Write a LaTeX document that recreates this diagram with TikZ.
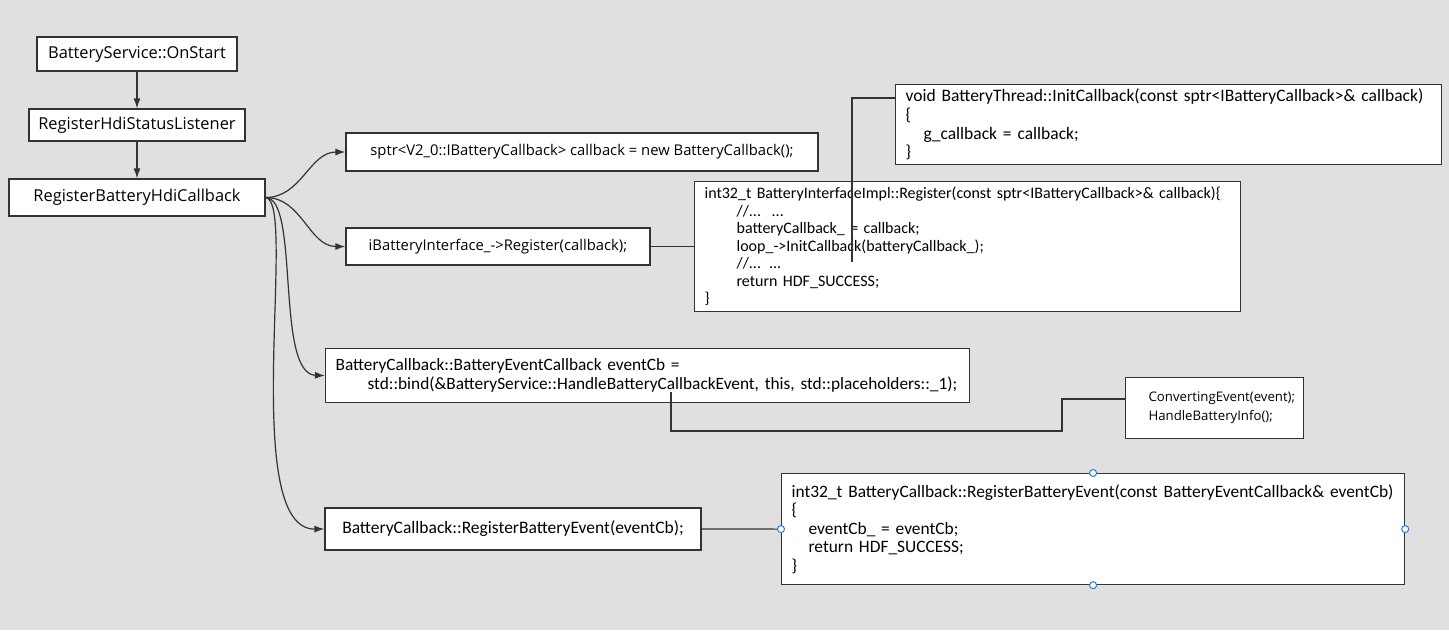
\documentclass[tikz,border=0pt]{standalone}
\usepackage{fontspec}
\setmainfont{Open Sans}
\newfontfamily\codefont{Carlito}
\usetikzlibrary{positioning,arrows.meta}

\definecolor{canvas}{RGB}{224,224,224}
\definecolor{edgegray}{RGB}{51,51,51}
\definecolor{handle}{RGB}{40,120,220}

\tikzset{
  call/.style={draw=edgegray, fill=white, line width=1.2pt, inner sep=0pt,
    font=\fontsize{16.4}{19}\selectfont},
  code/.style={call, align=left, anchor=north west, inner xsep=10pt, inner ysep=4pt,
    font=\codefont\fontsize{16}{17.5}\selectfont},
  flow/.style={draw=edgegray, line width=1.2pt, -{Latex[length=10pt,width=7pt]}},
  link/.style={draw=edgegray, line width=1.2pt},
  grip/.style={circle, draw=handle, fill=white, line width=1pt, inner sep=0pt, minimum size=7pt},
}

\begin{document}
\begin{tikzpicture}[x=1pt, y=-1pt]
  \fill[canvas] (0,0) rectangle (1449,630);
  \useasboundingbox (0,0) rectangle (1449,630);

  %Define nodes
  \node[call, minimum width=200pt, minimum height=34pt] (onstart) at (137,54) {BatteryService::OnStart};
  \node[call, minimum width=216pt, minimum height=32pt] (listener) at (137,125) {RegisterHdiStatusListener};
  \node[call, minimum width=256pt, minimum height=37pt] (hdicb) at (137,197.5) {RegisterBatteryHdiCallback};

  \node[call, minimum width=472pt, minimum height=38pt, font=\fontsize{14.8}{17}\selectfont] (newcb) at (582,152)
    {sptr<V2\_0::IBatteryCallback> callback = new BatteryCallback();};
  \node[call, minimum width=304pt, minimum height=37pt, font=\fontsize{14.8}{17}\selectfont] (ifreg) at (498,246.5)
    {iBatteryInterface\_->Register(callback);};

  \node[code, text width=526pt, minimum height=80pt, font=\codefont\fontsize{17.5}{18.7}\selectfont] (thread) at (895,84)
    {void BatteryThread::InitCallback(const sptr<IBatteryCallback>\& callback)\\
     \{\\
     \hspace*{18pt}g\_callback = callback;\\
     \}};
  \node[code, text width=526pt, minimum height=130pt] (implreg) at (694,181)
    {int32\_t BatteryInterfaceImpl::Register(const sptr<IBatteryCallback>\& callback)\{\\
     \hspace*{32pt}//...\ \ ...\\
     \hspace*{32pt}batteryCallback\_ = callback;\\
     \hspace*{32pt}loop\_->InitCallback(batteryCallback\_);\\
     \hspace*{32pt}//... ...\\
     \hspace*{32pt}return HDF\_SUCCESS;\\
     \}};

  \node[code, text width=624pt, minimum height=54pt, font=\codefont\fontsize{17.3}{19}\selectfont] (bindcb) at (325,348)
    {BatteryCallback::BatteryEventCallback eventCb =\\
     \hspace*{32pt}std::bind(\&BatteryService::HandleBatteryCallbackEvent, this, std::placeholders::\_1);};
  \node[call, align=left, anchor=north west, inner xsep=23pt, text width=132pt, minimum height=61pt,
    font=\fontsize{13.2}{19}\selectfont] (convert) at (1125,377)
    {ConvertingEvent(event);\\HandleBatteryInfo();};

  \node[call, minimum width=376pt, minimum height=42pt, font=\codefont\fontsize{17.5}{18}\selectfont] (regevent) at (513,529)
    {BatteryCallback::RegisterBatteryEvent(eventCb);};
  \node[code, text width=603pt, minimum height=111pt, font=\codefont\fontsize{17.4}{18.5}\selectfont] (implevent) at (781,473)
    {int32\_t BatteryCallback::RegisterBatteryEvent(const BatteryEventCallback\& eventCb)\\
     \{\\
     \hspace*{17pt}eventCb\_ = eventCb;\\
     \hspace*{17pt}return HDF\_SUCCESS;\\
     \}};
  \foreach \side in {north,south,east,west}
    \node[grip] (grip-\side) at (implevent.\side) {};

  \coordinate (looptap) at (852,262);
  \coordinate (bindtap) at (671,392);

  % Connect the nodes
  \draw[flow] (onstart) -- (listener);
  \draw[flow] (listener) -- (hdicb);
  \draw[flow] (hdicb.east) to[out=0, in=180] (newcb.west);
  \draw[flow] (hdicb.east) to[out=0, in=180] (ifreg.west);
  \draw[flow] (hdicb.east) .. controls (300,198) and (275,374) .. (bindcb.west);
  \draw[flow] (hdicb.east) .. controls (298,200) and (238,530) .. (regevent.west);

  \draw[link] (ifreg.east) -- (ifreg.east -| implreg.west);
  \draw[link] (looptap) |- ([yshift=-14pt]thread.north west);
  \draw[link] (bindtap) -- ++(0,39) -- ++(391,0) |- ([yshift=-22pt]convert.north west);
  \draw[link] (regevent.east) -- (grip-west);

\end{tikzpicture}
\end{document}
